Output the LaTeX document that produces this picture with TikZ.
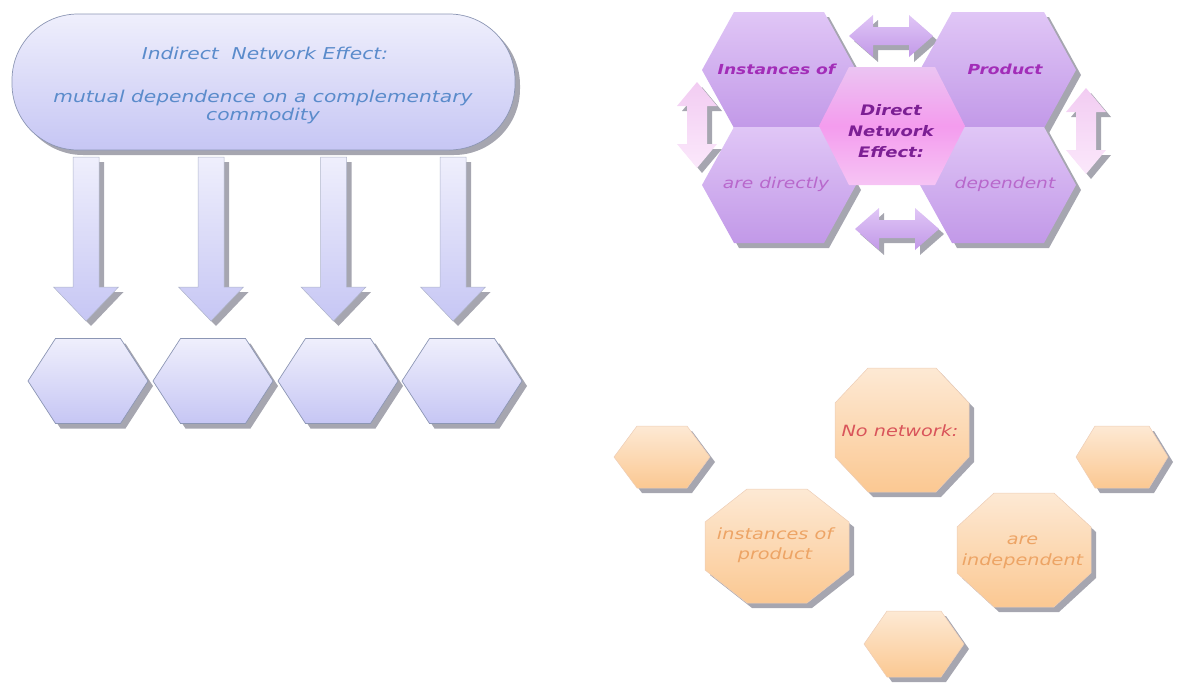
\documentclass[tikz,border=0pt]{standalone}
\usepackage{fontspec}
\newfontfamily\diagfont[FakeStretch=1.24]{DejaVu Sans}

% flat-topped hexagon: centre x, centre y (downwards), half width, half height, half top edge, style
\newcommand\hexa[6]{%
  \path[#6] ({#1-#3},{-(#2)}) -- ({#1-#5},{-(#2)+#4}) -- ({#1+#5},{-(#2)+#4})
    -- ({#1+#3},{-(#2)}) -- ({#1+#5},{-(#2)-#4}) -- ({#1-#5},{-(#2)-#4}) -- cycle;}
% octagon: centre x, centre y, half width, half height, half top edge, half side edge, style
\newcommand\octa[7]{%
  \path[#7] ({#1-#5},{-(#2)+#4}) -- ({#1+#5},{-(#2)+#4}) -- ({#1+#3},{-(#2)+#6})
    -- ({#1+#3},{-(#2)-#6}) -- ({#1+#5},{-(#2)-#4}) -- ({#1-#5},{-(#2)-#4})
    -- ({#1-#3},{-(#2)-#6}) -- ({#1-#3},{-(#2)+#6}) -- cycle;}
% block arrow pointing down: centre x, style
\newcommand\blockdown[2]{%
  \path[#2] ({#1-13},-157) -- ({#1+13},-157) -- ({#1+13},-287) -- ({#1+32.5},-287)
    -- (#1,-321) -- ({#1-32.5},-287) -- ({#1-13},-287) -- cycle;}
% horizontal double block arrow: centre x, centre y, style
\newcommand\blockhoriz[3]{%
  \path[#3] ({#1-42},{-(#2)}) -- ({#1-18},{-(#2)+21}) -- ({#1-18},{-(#2)+9})
    -- ({#1+18},{-(#2)+9}) -- ({#1+18},{-(#2)+21}) -- ({#1+42},{-(#2)})
    -- ({#1+18},{-(#2)-21}) -- ({#1+18},{-(#2)-9}) -- ({#1-18},{-(#2)-9})
    -- ({#1-18},{-(#2)-21}) -- cycle;}
% vertical double block arrow: centre x, centre y, style
\newcommand\blockvert[3]{%
  \path[#3] ({#1},{-(#2)+43}) -- ({#1+20},{-(#2)+19}) -- ({#1+10},{-(#2)+19})
    -- ({#1+10},{-(#2)-19}) -- ({#1+20},{-(#2)-19}) -- ({#1},{-(#2)-43})
    -- ({#1-20},{-(#2)-19}) -- ({#1-10},{-(#2)-19}) -- ({#1-10},{-(#2)+19})
    -- ({#1-20},{-(#2)+19}) -- cycle;}

\definecolor{blueT}{HTML}{EFEFFC}
\definecolor{blueB}{HTML}{C6C6F4}
\definecolor{blueline}{HTML}{8C96B4}
\definecolor{shadowgray}{HTML}{A6A6B0}
\definecolor{purpleT}{HTML}{E0C6F6}
\definecolor{purpleB}{HTML}{C299E8}
\definecolor{pinkT}{HTML}{EBC4F2}
\definecolor{pinkM}{HTML}{F49CEE}
\definecolor{pinkB}{HTML}{F6C4F4}
\definecolor{lpinkT}{HTML}{F2CCF2}
\definecolor{lpinkB}{HTML}{FBE8FB}
\definecolor{orangeT}{HTML}{FDE9D4}
\definecolor{orangeB}{HTML}{FBC892}
\definecolor{orangeline}{HTML}{EDCDB6}
\definecolor{txtblue}{HTML}{5A8BCB}
\definecolor{txtpurple}{HTML}{A22DB8}
\definecolor{txtdeep}{HTML}{7C1F94}
\definecolor{txtlilac}{HTML}{B868CC}
\definecolor{txtred}{HTML}{D9545A}
\definecolor{txtorange}{HTML}{EDA465}

\begin{document}
\begin{tikzpicture}[x=1pt,y=1pt,
  shadowed/.style={fill=shadowgray, shift={(5,-5)}},
  bluebody/.style={top color=blueT, bottom color=blueB, draw=blueline, line width=0.7pt},
  arrowbody/.style={top color=blueT, bottom color=blueB, draw=blueline!70, line width=0.5pt},
  purplebody/.style={top color=purpleT, bottom color=purpleB},
  pinkbody/.style={top color=pinkT, bottom color=pinkB, middle color=pinkM},
  lpinkbody/.style={top color=lpinkT, bottom color=lpinkB},
  orangebody/.style={top color=orangeT, bottom color=orangeB, draw=orangeline, line width=0.5pt},
  label/.style={inner sep=0pt, anchor=base, font=\diagfont\itshape},
  bluetxt/.style={label, text=txtblue, font=\diagfont\itshape\fontsize{16.3}{20}\selectfont},
  boldtxt/.style={label, font=\diagfont\bfseries\itshape\fontsize{13.8}{17}\selectfont},
  deeptxt/.style={label, text=txtdeep, font=\diagfont\bfseries\itshape\fontsize{14.5}{17}\selectfont},
  lilactxt/.style={label, text=txtlilac, font=\diagfont\itshape\fontsize{15}{18}\selectfont},
  orangetxt/.style={label, font=\diagfont\itshape\fontsize{15.5}{19}\selectfont}]

\useasboundingbox (0,0) rectangle (1181,-686);

% ---------- indirect network effect ----------
\path[shadowed, rounded corners=66pt] (12,-14) rectangle (515,-150);
\path[bluebody, rounded corners=66pt] (12,-14) rectangle (515,-150);
\node[bluetxt] (ind1) at (265,-59) {Indirect~ Network Effect:};
\node[bluetxt] (ind2) at (263,-102) {mutual dependence on a complementary};
\node[bluetxt] (ind3) at (263,-120) {commodity};

\foreach \cx in {86,211,333.5,453}{
  \blockdown{\cx}{shadowed}
  \blockdown{\cx}{arrowbody}
}

\foreach \cx in {88,213,338,462}{
  \hexa{\cx}{381}{60}{42.5}{32.5}{shadowed}
}
\foreach \cx in {88,213,338,462}{
  \hexa{\cx}{381}{60}{42.5}{32.5}{bluebody}
}

% ---------- direct network effect ----------
\blockhoriz{891}{36}{shadowed}
\blockhoriz{891}{36}{purplebody}
\blockhoriz{897}{229}{shadowed}
\blockhoriz{897}{229}{purplebody}
\blockvert{697}{125}{shadowed}
\blockvert{697}{125}{lpinkbody}
\blockvert{1086}{131}{shadowed}
\blockvert{1086}{131}{lpinkbody}

\hexa{779}{70}{77}{58}{45}{shadowed}
\hexa{998}{70}{78}{58}{46}{shadowed}
\hexa{779}{185}{77}{58}{45}{shadowed}
\hexa{998}{185}{78}{58}{46}{shadowed}
\hexa{779}{70}{77}{58}{45}{purplebody}
\hexa{998}{70}{78}{58}{46}{purplebody}
\hexa{779}{185}{77}{58}{45}{purplebody}
\hexa{998}{185}{78}{58}{46}{purplebody}
\hexa{892}{126}{73}{59}{43}{pinkbody}

\node[boldtxt, text=txtpurple] (inst) at (776.5,-74) {Instances of};
\node[boldtxt, text=txtpurple] (prod) at (1005,-74) {Product};
\node[lilactxt] (direc) at (776,-188) {are directly};
\node[lilactxt] (dep) at (1005,-188) {dependent};
\node[deeptxt] (dne1) at (891,-115) {Direct};
\node[deeptxt] (dne2) at (891,-136) {Network};
\node[deeptxt] (dne3) at (891,-157) {Effect:};

% ---------- no network ----------
\hexa{662}{457}{48}{31}{25}{shadowed}
\hexa{1122}{457}{46}{31}{27}{shadowed}
\hexa{914}{644}{50}{33}{27}{shadowed}
\octa{902}{430}{67}{62}{34}{27}{shadowed}
\octa{777}{546}{72}{57}{30}{24}{shadowed}
\octa{1024}{550}{67}{57}{30}{23}{shadowed}
\hexa{662}{457}{48}{31}{25}{orangebody}
\hexa{1122}{457}{46}{31}{27}{orangebody}
\hexa{914}{644}{50}{33}{27}{orangebody}
\octa{902}{430}{67}{62}{34}{27}{orangebody}
\octa{777}{546}{72}{57}{30}{24}{orangebody}
\octa{1024}{550}{67}{57}{30}{23}{orangebody}

\node[orangetxt, text=txtred] (nonet) at (900,-436) {No network:};
\node[orangetxt, text=txtorange] (inst2) at (775,-539) {instances of};
\node[orangetxt, text=txtorange] (prod2) at (775,-559) {product};
\node[orangetxt, text=txtorange] (are) at (1022.5,-544) {are};
\node[orangetxt, text=txtorange] (indep) at (1022.5,-565) {independent};
\end{tikzpicture}
\end{document}
